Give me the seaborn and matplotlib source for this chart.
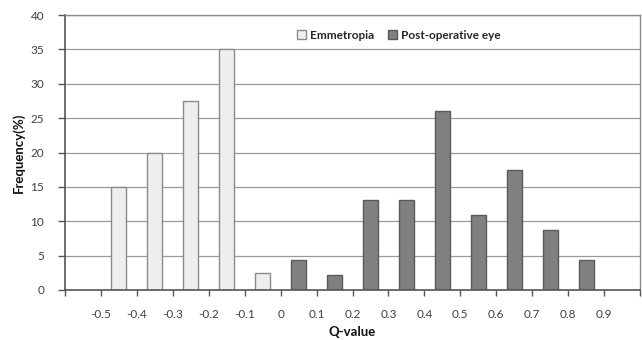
import matplotlib
matplotlib.use("Agg")
import matplotlib.pyplot as plt
import seaborn as sns
import pandas as pd
import numpy as np
from matplotlib.patches import Patch

sns.set_theme(style="white")
plt.rcParams['font.family'] = ['Lato', 'DejaVu Sans']

# 16 category slots between the tick boundaries (-0.6 .. 1.0)
slots = list(range(16))
tick_labels = ["-0.5", "-0.4", "-0.3", "-0.2", "-0.1", "0", "0.1", "0.2",
               "0.3", "0.4", "0.5", "0.6", "0.7", "0.8", "0.9"]
emmetropia = [0, 15, 20, 27.5, 35, 2.5, 0, 0, 0, 0, 0, 0, 0, 0, 0, 0]
post_op = [0, 0, 0, 0, 0, 0, 4.35, 2.17, 13.04, 13.04, 26.09, 10.87, 17.39, 8.70, 4.35, 0]
series_names = ["Emmetropia", "Post-operative eye"]

rows = []
for s, e, p in zip(slots, emmetropia, post_op):
    if e > 0:
        rows.append((str(s), e, series_names[0]))
    if p > 0:
        rows.append((str(s), p, series_names[1]))
df = pd.DataFrame(rows, columns=["slot", "freq", "series"])

fig = plt.figure(figsize=(6.42, 3.40), dpi=100)
ax = fig.add_axes([65/642, 1-290/340, 575/642, 275/340])

colors = {"Emmetropia": "#efefef", "Post-operative eye": "#808080"}
edges = {"Emmetropia": "#8a8a8a", "Post-operative eye": "#5a5a5a"}
for name in series_names:
    sub = df[df.series == name]
    sns.barplot(data=sub, x="slot", y="freq", order=[str(s) for s in slots],
                color=colors[name], width=0.42, ax=ax,
                edgecolor=edges[name], linewidth=1.0, saturation=1)

ax.set_xlim(-0.5, 15.5)
ax.set_ylim(0, 40)
ax.set_yticks(np.arange(0, 41, 5))
ax.yaxis.grid(True, color="#9a9a9a", linewidth=0.9)
ax.set_axisbelow(True)

ax.set_xticks(np.arange(-0.5, 15.6, 1))
ax.set_xticklabels([""] + tick_labels + [""])
ax.tick_params(axis="x", direction="out", length=4, width=1, color="#555555",
               labelsize=8.5, labelcolor="#404040", pad=10, bottom=True)
ax.tick_params(axis="y", direction="out", length=5, width=1, color="#555555",
               labelsize=8.5, labelcolor="#404040", pad=10, left=True)

for side in ["top", "right"]:
    ax.spines[side].set_color("#8a8a8a")
    ax.spines[side].set_linewidth(1.0)
for side in ["left", "bottom"]:
    ax.spines[side].set_color("#555555")
    ax.spines[side].set_linewidth(1.2)

ax.set_xlabel("Q-value", fontsize=9.5, fontweight="bold", color="#111111", labelpad=4)
ax.set_ylabel("Frequency(%)", fontsize=9.5, fontweight="bold", color="#111111", labelpad=4)

handles = [Patch(facecolor=colors[n], edgecolor=edges[n], label=n) for n in series_names]
ax.legend(handles=handles, loc="upper center", bbox_to_anchor=(0.58, 0.985), ncol=2,
          frameon=False, handlelength=0.8, handleheight=0.8,
          handletextpad=0.3, columnspacing=1.2, prop={"weight": "bold", "size": 8.5})

fig.savefig("out.png", dpi=100)
